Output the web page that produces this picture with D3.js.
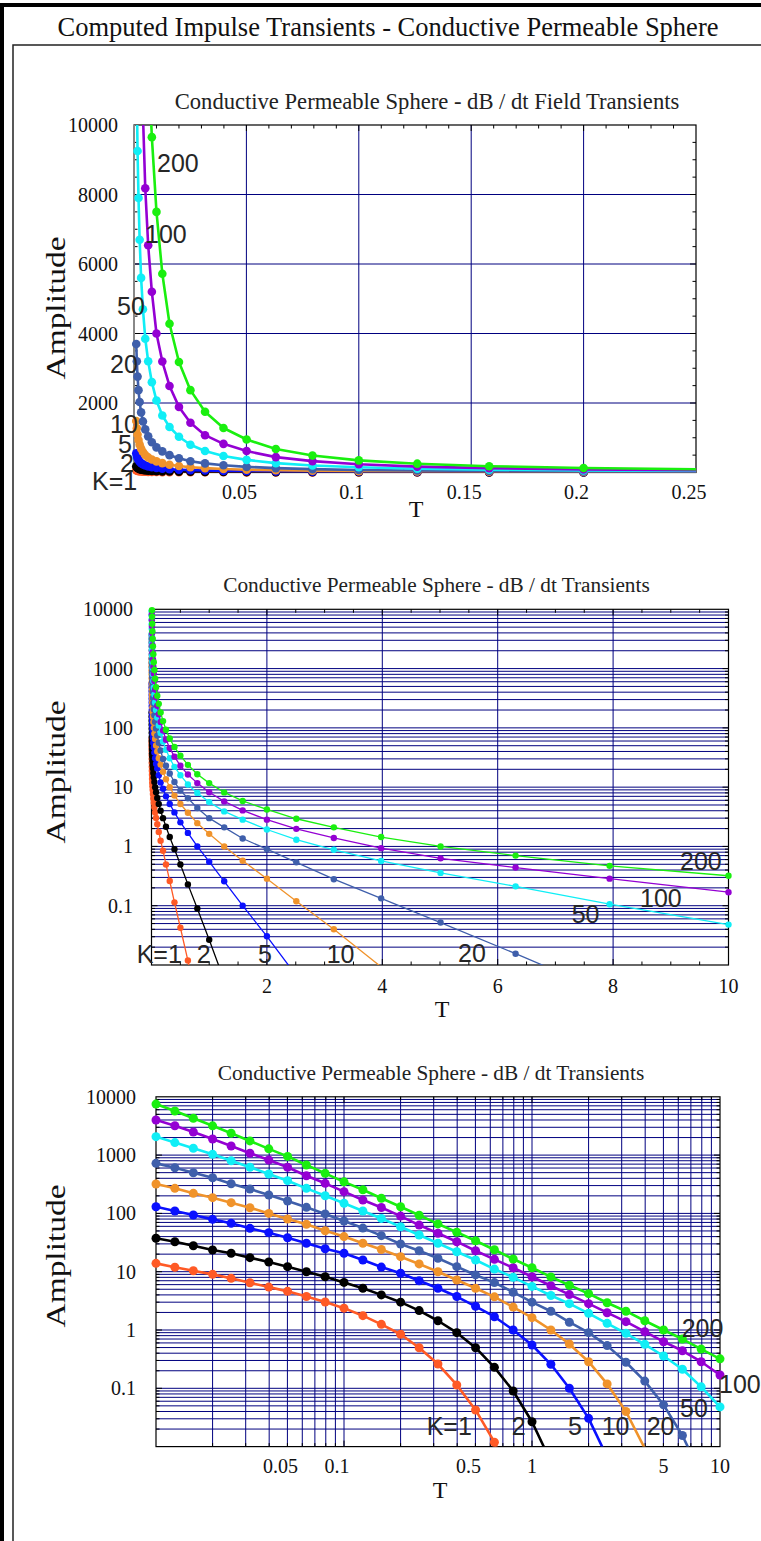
<!DOCTYPE html>
<html><head><meta charset="utf-8">
<script src="https://cdn.jsdelivr.net/npm/d3@7"></script>
<style>body{margin:0;background:#fff}svg{display:block}</style>
</head><body>
<svg id="c" width="761" height="1541"></svg>
<script>
// ---------------- data ----------------
const kValues = [1, 2, 5, 10, 20, 50, 100, 200];
const kLabels = ["K=1", "2", "5", "10", "20", "50", "100", "200"];
const times = [0.001,0.00126,0.00158,0.002,0.00251,0.00316,0.00398,0.00501,0.00631,0.00794,
  0.01,0.0126,0.0158,0.02,0.0251,0.0316,0.0398,0.0501,0.0631,0.0794,
  0.1,0.126,0.158,0.2,0.251,0.316,0.398,0.501,0.631,0.794,
  1,1.26,1.58,2,2.51,3.16,3.98,5.01,6.31,7.94,10];
const ampK1 = [64.6,55.4,47.5,40.8,35,30,25.7,22,18.9,16.2,
  13.9,11.9,10.4,9.0,7.7,6.45,5.45,4.6,3.75,3.02,
  2.37,1.76,1.25,0.845,0.497,0.261,0.114,0.0425,0.0119,0.0022,
  null,null,null,null,null,null,null,null,null,null,null];
const ampK2 = [181,155,132,113,96.5,82.4,70.3,60,51.3,43.8,
  37.4,32.7,27.9,23.6,20.7,17.4,14.7,12.2,10,8.2,
  6.55,5.2,4.0,3.0,2.15,1.44,0.90,0.497,0.229,0.090,
  0.0267,0.0055,null,null,null,null,null,null,null,null,null];
const ampK5 = [556,482,417,360,311,269,233,201,174,150,
  130,110,94,79,67.6,55.5,46.7,38.3,30.7,24.8,
  20.7,15.9,12.0,9.4,7.0,5.2,3.75,2.55,1.69,1.0,
  0.553,0.258,0.1,0.0305,0.0066,null,null,null,null,null,null];
const ampK10 = [1480,1270,1090,935,802,688,590,506,434,372,
  319,269,221,186,153,125,100,80,65,50.5,
  40,30.7,24,18.1,13.6,10,7.2,5.2,3.7,2.47,
  1.63,1.0,0.575,0.286,0.119,0.040,0.0093,0.0015,null,null,null];
const ampK20 = [3700,3200,2760,2370,2030,1730,1470,1240,1040,870,
  723,608,499,409,322,262,207,163,127,98,
  74,56,41.5,29.8,22.9,17,12.2,8.8,6.5,4.45,
  3.0,2.1,1.36,0.90,0.54,0.28,0.133,0.052,0.0155,0.0033,null];
const ampK50 = [12600,10800,9250,7900,6700,5600,4700,3850,3200,2600,
  2070,1640,1309,1030,800,618,474,364,269,201,
  149,110,82,59,42.6,30.7,22,15.9,11.1,8.0,
  5.6,3.9,2.83,1.93,1.30,0.877,0.569,0.358,0.212,0.106,0.048];
const ampK100 = [28800,24500,20800,17600,14800,12400,10300,8180,6540,5200,
  4000,3193,2490,1888,1432,1074,824,618,443,328,
  236,170,126,90,63,45.6,32.7,22.9,16.3,11.7,
  8.2,5.75,4.05,2.83,1.98,1.39,0.935,0.63,0.44,0.286,0.169];
const ampK200 = [61000,50600,41800,34400,28200,23000,18700,15100,12100,9650,
  7500,5720,4280,3180,2370,1750,1280,950,675,487,
  348,254,182,130,93,66,47.5,34,23.8,16.5,
  11.7,8.15,5.85,4.2,2.93,2.1,1.44,1.0,0.70,0.47,0.32];
const seriesValues = [ampK1, ampK2, ampK5, ampK10, ampK20, ampK50, ampK100, ampK200];
const colors = ["#ff5a26", "#000000", "#0a10ff", "#f0932b", "#3f5fab", "#10eef6", "#9400d3", "#1aef0f"];

// tick labels
const c1XTicks = [0.05, 0.1, 0.15, 0.2, 0.25];
const c1XTickText = ["0.05", "0.1", "0.15", "0.2", "0.25"];
const c1YTicks = [2000, 4000, 6000, 8000, 10000];
const c1YTickText = ["2000", "4000", "6000", "8000", "10000"];
const c2XTicks = [2, 4, 6, 8, 10];
const c2XTickText = ["2", "4", "6", "8", "10"];
const logYTicks = [0.1, 1, 10, 100, 1000, 10000];
const logYTickText = ["0.1", "1", "10", "100", "1000", "10000"];
const c3XTicks = [0.05, 0.1, 0.5, 1, 5, 10];
const c3XTickText = ["0.05", "0.1", "0.5", "1", "5", "10"];

const mainTitle = "Computed Impulse Transients - Conductive Permeable Sphere";
const subTitles = ["Conductive Permeable Sphere - dB / dt Field Transients",
  "Conductive Permeable Sphere - dB / dt Transients",
  "Conductive Permeable Sphere - dB / dt Transients"];

// ---------------- drawing ----------------
const svg = d3.select("#c");
svg.append("rect").attr("width", 761).attr("height", 1541).attr("fill", "#fff");
svg.append("rect").attr("x", 2).attr("y", 5).attr("width", 800).attr("height", 1600)
  .attr("fill", "none").attr("stroke", "#000").attr("stroke-width", 4);
svg.append("rect").attr("x", 13).attr("y", 45).attr("width", 800).attr("height", 1600)
  .attr("fill", "none").attr("stroke", "#222").attr("stroke-width", 1.5);
svg.append("text").attr("x", 388).attr("y", 36).attr("text-anchor", "middle")
  .attr("font-family", "Liberation Serif, Times New Roman, serif").attr("font-size", 26.5)
  .attr("fill", "#111").text(mainTitle);

function logGrid(lo, hi) {
  const out = [];
  for (let n = Math.floor(Math.log10(lo)); n <= Math.ceil(Math.log10(hi)); n++)
    for (let k = 1; k < 10; k++) {
      const v = k * Math.pow(10, n);
      if (v > lo * 1.0001 && v < hi * 0.9999) out.push(+v.toPrecision(6));
    }
  return out;
}
function isDecade(v) { const l = Math.log10(v); return Math.abs(l - Math.round(l)) < 1e-6; }

const serif = "Liberation Serif, Times New Roman, serif";
const sans = "Liberation Sans, Arial, sans-serif";
const gridColor = "#00007f";

const charts = [
  {
    x: d3.scaleLinear().domain([0, 0.25]).range([134, 696]),
    y: d3.scaleLinear().domain([0, 10000]).range([472.5, 125]),
    logY: false,
    xGrid: [0.05, 0.1, 0.15, 0.2], yGrid: [2000, 4000, 6000, 8000],
    xMajorT: [0.05, 0.1, 0.15, 0.2], xMinorT: d3.range(1, 25).map(i => +(i * 0.01).toFixed(2)).filter(v => Math.abs(v / 0.05 - Math.round(v / 0.05)) > 1e-6),
    yMajorT: [2000, 4000, 6000, 8000], yMinorT: d3.range(1, 20).map(i => i * 500).filter(v => v % 2000 !== 0),
    xTicks: c1XTicks, xTickText: c1XTickText, yTicks: c1YTicks, yTickText: c1YTickText,
    xLabelY: 499, yLabelX: 118, decShift: -7,
    title: subTitles[0], titleX: 427, titleY: 109, titleSize: 22.6,
    tX: 416, tY: 517, ampY: 308,
    lw: 2.6, r: 4.3, leftGray: true,
    labels: [[92, 490], [120, 472], [118, 453], [110, 433], [110, 373], [117, 315], [145, 243], [157, 172]]
  },
  {
    x: d3.scaleLinear().domain([0, 10]).range([151.5, 728.5]),
    y: d3.scaleLog().domain([0.01, 10000]).range([965, 609.3]),
    logY: true,
    xGrid: [2, 4, 6, 8], yGrid: logGrid(0.01, 10000),
    xMajorT: [2, 4, 6, 8], xMinorT: d3.range(1, 20).map(i => i * 0.5).filter(v => v % 2 !== 0),
    yMajorT: logGrid(0.01, 10000).filter(isDecade), yMinorT: logGrid(0.01, 10000).filter(v => !isDecade(v)),
    xTicks: c2XTicks, xTickText: c2XTickText, yTicks: logYTicks, yTickText: logYTickText,
    xLabelY: 993, yLabelX: 133, decShift: 0,
    title: subTitles[1], titleX: 436.5, titleY: 592, titleSize: 21.3,
    tX: 442, tY: 1017, ampY: 772,
    lw: 1.3, r: 3.2, leftGray: false,
    labels: [[136.7, 963], [196.7, 963], [258, 963], [326.7, 963], [458, 961.7], [571.7, 923.3], [640, 906.7], [680, 870]]
  },
  {
    x: d3.scaleLog().domain([0.01, 10]).range([156, 720]),
    y: d3.scaleLog().domain([0.01, 10000]).range([1446.6, 1096.8]),
    logY: true,
    xGrid: logGrid(0.01, 10), yGrid: logGrid(0.01, 10000),
    xMajorT: logGrid(0.01, 10).filter(isDecade), xMinorT: logGrid(0.01, 10).filter(v => !isDecade(v)),
    yMajorT: logGrid(0.01, 10000).filter(isDecade), yMinorT: logGrid(0.01, 10000).filter(v => !isDecade(v)),
    xTicks: c3XTicks, xTickText: c3XTickText, yTicks: logYTicks, yTickText: logYTickText,
    xLabelY: 1473, yLabelX: 136, decShift: -7,
    title: subTitles[2], titleX: 431, titleY: 1080, titleSize: 21.3,
    tX: 440, tY: 1498, ampY: 1256,
    lw: 2.6, r: 4.5, leftGray: false,
    labels: [[426.7, 1435], [511.7, 1435], [568, 1435], [601.7, 1435], [646.7, 1435], [680, 1417], [719, 1393], [681.7, 1336.7]]
  }
];

charts.forEach((cfg, ci) => {
  const g = svg.append("g");
  const x = cfg.x, y = cfg.y;
  const [xa, xb] = x.range();
  const [yb, ya] = y.range(); // yb bottom, ya top
  const clipId = "clip" + ci;
  svg.append("clipPath").attr("id", clipId).append("rect")
    .attr("x", xa).attr("y", ya).attr("width", xb - xa).attr("height", yb - ya);

  // title
  g.append("text").attr("x", cfg.titleX).attr("y", cfg.titleY).attr("text-anchor", "middle")
    .attr("font-family", serif).attr("font-size", cfg.titleSize).attr("fill", "#222").text(cfg.title);

  // grid
  g.selectAll(null).data(cfg.xGrid).join("line")
    .attr("x1", d => x(d)).attr("x2", d => x(d)).attr("y1", ya).attr("y2", yb)
    .attr("stroke", gridColor).attr("stroke-width", 1);
  g.selectAll(null).data(cfg.yGrid).join("line")
    .attr("y1", d => y(d)).attr("y2", d => y(d)).attr("x1", xa).attr("x2", xb)
    .attr("stroke", gridColor).attr("stroke-width", 1);

  // ticks (inward on all sides)
  const tick = (vals, len, axis) => {
    vals.forEach(v => {
      if (axis === "x") {
        const px = x(v);
        g.append("line").attr("x1", px).attr("x2", px).attr("y1", yb).attr("y2", yb - len).attr("stroke", "#000");
        g.append("line").attr("x1", px).attr("x2", px).attr("y1", ya).attr("y2", ya + len).attr("stroke", "#000");
      } else {
        const py = y(v);
        g.append("line").attr("y1", py).attr("y2", py).attr("x1", xa).attr("x2", xa + len).attr("stroke", "#000");
        g.append("line").attr("y1", py).attr("y2", py).attr("x1", xb).attr("x2", xb - len).attr("stroke", "#000");
      }
    });
  };
  tick(cfg.xMajorT, 6, "x"); tick(cfg.xMinorT, 3.5, "x");
  tick(cfg.yMajorT, 6, "y"); tick(cfg.yMinorT, 3.5, "y");

  // frame
  g.append("rect").attr("x", xa).attr("y", ya).attr("width", xb - xa).attr("height", yb - ya)
    .attr("fill", "none").attr("stroke", "#000").attr("stroke-width", 1.2);
  if (cfg.leftGray) g.append("line").attr("x1", xa).attr("x2", xa).attr("y1", ya).attr("y2", yb)
    .attr("stroke", "#888").attr("stroke-width", 2);

  // tick labels
  g.selectAll(null).data(cfg.xTicks).join("text")
    .attr("x", (d, i) => x(d) + (cfg.xTickText[i].includes(".") ? cfg.decShift : 0))
    .attr("y", cfg.xLabelY).attr("text-anchor", "middle")
    .attr("font-family", serif).attr("font-size", 20).attr("fill", "#111")
    .text((d, i) => cfg.xTickText[i]);
  g.selectAll(null).data(cfg.yTicks).join("text")
    .attr("x", cfg.yLabelX).attr("y", d => y(d)).attr("dy", "0.35em").attr("text-anchor", "end")
    .attr("font-family", serif).attr("font-size", 20).attr("fill", "#111")
    .text((d, i) => cfg.yTickText[i]);

  // axis titles
  g.append("text").attr("x", cfg.tX).attr("y", cfg.tY).attr("text-anchor", "middle")
    .attr("font-family", serif).attr("font-size", 24).attr("fill", "#111").text("T");
  g.append("text").attr("transform", `translate(65,${cfg.ampY}) rotate(-90)`)
    .attr("text-anchor", "middle").attr("font-family", serif).attr("font-size", 28)
    .attr("textLength", 143).attr("lengthAdjust", "spacingAndGlyphs")
    .attr("fill", "#111").text("Amplitude");

  // series
  const [xd0, xd1] = x.domain(), [yd0, yd1] = y.domain();
  seriesValues.forEach((vals, si) => {
    const pts = times.map((t, j) => ({ t, v: vals[j] }));
    const ok = d => d.v != null && (!cfg.logY || d.v > 0);
    const line = d3.line().defined(ok).x(d => x(d.t)).y(d => y(d.v));
    g.append("path").datum(pts).attr("d", line).attr("clip-path", `url(#${clipId})`)
      .attr("fill", "none").attr("stroke", colors[si]).attr("stroke-width", cfg.lw)
      .attr("stroke-linejoin", "round");
    const inside = pts.filter(d => ok(d) && d.t >= xd0 * (1 - 1e-9) && d.t <= xd1 * (1 + 1e-9)
      && d.v >= yd0 && d.v <= yd1);
    g.selectAll(null).data(inside).join("circle")
      .attr("cx", d => x(d.t)).attr("cy", d => y(d.v)).attr("r", cfg.r).attr("fill", colors[si]);
  });

  // curve labels
  g.selectAll(null).data(kLabels).join("text")
    .attr("x", (d, i) => cfg.labels[i][0]).attr("y", (d, i) => cfg.labels[i][1])
    .attr("font-family", sans).attr("font-size", 25).attr("fill", "#262626")
    .text(d => d);
});
</script>
</body></html>
